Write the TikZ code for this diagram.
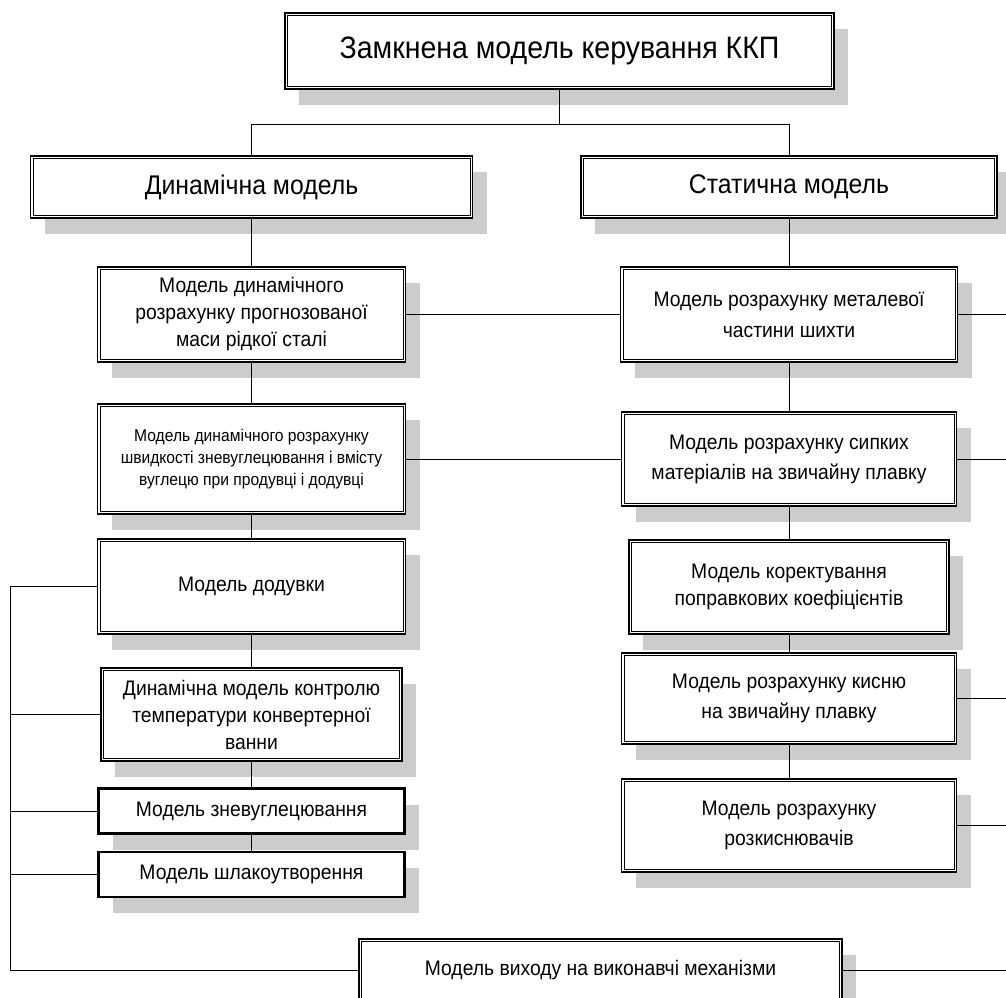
\documentclass[tikz,border=0pt]{standalone}
\usepackage{fontspec}
\setmainfont[FakeStretch=0.92]{Liberation Sans}
\usetikzlibrary{shadows}

\begin{document}
\begin{tikzpicture}[x=1pt,y=-1pt,
    box/.style={draw,line width=1.6pt,fill=white,inner sep=0pt,align=center,
      font=\fontsize{21}{27}\selectfont,
      drop shadow={shadow xshift=14pt,shadow yshift=-16pt,fill=black!20,opacity=1},
      path picture={\draw[line width=0.8pt]
        ([shift={(2.6pt,2.6pt)}]path picture bounding box.south west) rectangle
        ([shift={(-2.6pt,-2.6pt)}]path picture bounding box.north east);}},
    boldbox/.style={box,line width=2.6pt,path picture={}},
    wire/.style={line width=0.8pt}]
  \useasboundingbox (0,0) rectangle (1006,997);
  \node[box,minimum width=549pt,minimum height=76pt,font=\fontsize{31}{36}\selectfont] (top) at (559.5,51) {Замкнена модель керування ККП};
  \node[box,minimum width=442pt,minimum height=62pt,font=\fontsize{27}{32}\selectfont] (dyn) at (251.5,187) {Динамічна модель};
  \node[box,minimum width=416pt,minimum height=62pt,font=\fontsize{27}{32}\selectfont] (stat) at (789,187) {Статична модель};
  % left column
  \node[box,minimum width=308pt,minimum height=95pt] (L1) at (251.5,314.5) {Модель динамічного\\розрахунку прогнозованої\\маси рідкої сталі};
  \node[box,minimum width=308pt,minimum height=110pt,font=\fontsize{17}{22}\selectfont] (L2) at (251.5,459) {Модель динамічного розрахунку\\швидкості зневуглецювання і вмісту\\вуглецю при продувці і додувці};
  \node[box,minimum width=308pt,minimum height=95pt] (L3) at (251.5,586.5) {Модель додувки};
  \node[box,minimum width=301pt,minimum height=93pt] (L4) at (251.5,714.5) {Динамічна модель контролю\\температури конвертерної\\ванни};
  \node[boldbox,minimum width=306pt,minimum height=45pt] (L5) at (251.5,811) {Модель зневуглецювання};
  \node[boldbox,minimum width=306pt,minimum height=45pt] (L6) at (251.5,874.5) {Модель шлакоутворення};
  % right column
  \node[box,minimum width=337pt,minimum height=95pt,font=\fontsize{21}{31}\selectfont] (R1) at (789,314.5) {Модель розрахунку металевої\\частини шихти};
  \node[box,minimum width=335pt,minimum height=94pt,font=\fontsize{21}{30}\selectfont] (R2) at (789,459) {Модель розрахунку сипких\\матеріалів на звичайну плавку};
  \node[box,minimum width=320pt,minimum height=94pt] (R3) at (789,587) {Модель коректування\\поправкових коефіцієнтів};
  \node[box,minimum width=335pt,minimum height=91pt,font=\fontsize{21}{30}\selectfont] (R4) at (789,698.5) {Модель розрахунку кисню\\на звичайну плавку};
  \node[box,minimum width=335pt,minimum height=93pt,font=\fontsize{21}{30}\selectfont] (R5) at (789,825.5) {Модель розрахунку\\розкиснювачів};
  \node[box,minimum width=483pt,minimum height=62pt] (out) at (600.5,970) {Модель виходу на виконавчі механізми};
  % connectors
  \coordinate (bus) at (0,124);
  \coordinate (lbus) at (10,0);
  \coordinate (rbus) at (1006,0);
  \draw[wire] (top.south) -- (top.south |- bus);
  \draw[wire] (dyn.north) -- (dyn.north |- bus) -- (stat.north |- bus) -- (stat.north);
  \foreach \a/\b in {dyn/L1,L1/L2,L2/L3,L3/L4,L4/L5,L5/L6,stat/R1,R1/R2,R2/R3,R3/R4,R4/R5}
    \draw[wire] (\a.south) -- (\b.north);
  \draw[wire] (L1.east) -- (R1.west);
  \draw[wire] (L2.east) -- (R2.west);
  \foreach \n in {R1,R2,R4,R5,out}
    \draw[wire] (\n.east) -- (\n.east -| rbus);
  \foreach \n in {L4,L5,L6}
    \draw[wire] (\n.west) -- (\n.west -| lbus);
  \draw[wire] (L3.west) -- (L3.west -| lbus) |- (out.west);
\end{tikzpicture}
\end{document}
